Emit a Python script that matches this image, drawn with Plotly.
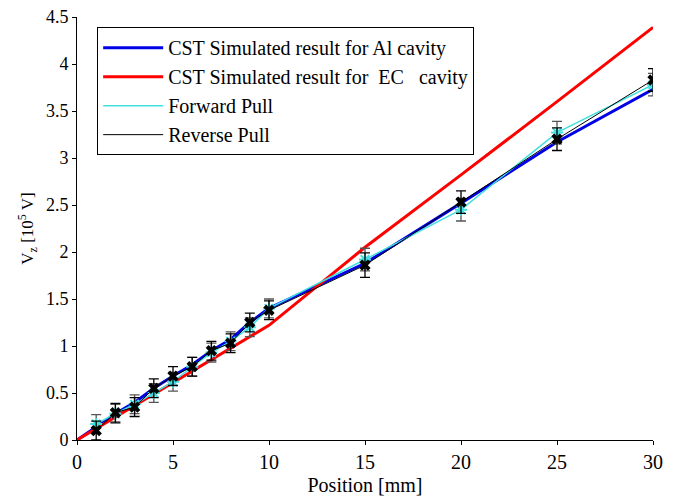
import plotly.graph_objects as go

# Simulated curves
sim_x = [0, 1, 2, 3, 4, 5, 6, 7, 8, 9, 10, 15, 20, 25, 30]
al_cavity = [0, 0.14, 0.28, 0.40, 0.55, 0.68, 0.80, 0.95, 1.07, 1.25, 1.40, 1.88, 2.52, 3.17, 3.73]
ec_x = [0, 10, 15, 20, 25, 30]
ec_cavity = [0, 1.22, 2.05, 2.82, 3.60, 4.39]

# Measured bead-pull data
pos = [1, 2, 3, 4, 5, 6, 7, 8, 9, 10, 15, 20, 25, 30]
forward = [0.17, 0.28, 0.38, 0.50, 0.62, 0.78, 0.93, 1.05, 1.20, 1.40, 1.92, 2.45, 3.27, 3.78]
reverse = [0.10, 0.29, 0.35, 0.55, 0.68, 0.78, 0.95, 1.03, 1.25, 1.38, 1.86, 2.53, 3.20, 3.83]
fwd_err = [0.10, 0.10, 0.10, 0.10, 0.10, 0.10, 0.10, 0.10, 0.10, 0.10, 0.12, 0.12, 0.12, 0.12]
rev_err = [0.10, 0.10, 0.10, 0.10, 0.10, 0.10, 0.10, 0.10, 0.10, 0.10, 0.13, 0.12, 0.12, 0.12]

x_ticks = [0, 5, 10, 15, 20, 25, 30]
y_ticks = [0, 0.5, 1, 1.5, 2, 2.5, 3, 3.5, 4, 4.5]
y_labels = ["0", "0.5", "1", "1.5", "2", "2.5", "3", "3.5", "4", "4.5"]

names = ["CST Simulated result for Al cavity",
         "CST Simulated result for  EC   cavity",
         "Forward Pull", "Reverse Pull"]

font = "Times New Roman, Liberation Serif, DejaVu Serif, serif"
BLUE, RED, CYAN, BLACK = "#0000e6", "#ff0000", "#40e0e0", "black"

fig = go.Figure()
fig.add_trace(go.Scatter(x=sim_x, y=al_cavity, mode="lines",
                         line=dict(color=BLUE, width=3), name=names[0]))
fig.add_trace(go.Scatter(x=ec_x, y=ec_cavity, mode="lines",
                         line=dict(color=RED, width=3), name=names[1]))
fig.add_trace(go.Scatter(x=pos, y=forward, mode="lines+markers",
                         line=dict(color=CYAN, width=1.5),
                         marker=dict(symbol="asterisk-open", size=10,
                                     line=dict(color="#20a0a0", width=2)),
                         error_y=dict(type="data", array=fwd_err, color="#555555",
                                      thickness=1.3, width=5),
                         name=names[2], showlegend=False))
fig.add_trace(go.Scatter(x=pos, y=reverse, mode="lines+markers",
                         line=dict(color=BLACK, width=1),
                         marker=dict(symbol="x", size=10, color=BLACK),
                         error_y=dict(type="data", array=rev_err, color=BLACK,
                                      thickness=1.3, width=5),
                         name=names[3], showlegend=False))
# legend entries for the measured data (line only, as in the original legend)
fig.add_trace(go.Scatter(x=[None], y=[None], mode="lines",
                         line=dict(color=CYAN, width=1.5), name=names[2]))
fig.add_trace(go.Scatter(x=[None], y=[None], mode="lines",
                         line=dict(color=BLACK, width=1), name=names[3]))

fig.update_layout(
    width=694, height=499,
    margin=dict(l=69, r=49, t=9, b=67),
    paper_bgcolor="white", plot_bgcolor="white",
    font=dict(family=font, size=20, color="black"),
    showlegend=True,
    legend=dict(x=0.035, y=0.976, xanchor="left", yanchor="top",
                bordercolor="black", borderwidth=1, bgcolor="white",
                font=dict(family=font, size=20), itemwidth=60,
                tracegroupgap=0),
    xaxis=dict(range=[0, 30], tickvals=x_ticks, showgrid=False, zeroline=False,
               showline=True, linecolor="black", linewidth=1,
               ticks="outside", ticklen=4, tickcolor="black",
               tickfont=dict(size=20), ticklabeloverflow="allow", automargin=False,
               title=dict(text="Position [mm]", standoff=5,
                          font=dict(family=font, size=20))),
    yaxis=dict(range=[0, 4.5], tickvals=y_ticks, ticktext=y_labels, showgrid=False,
               zeroline=False, showline=True, linecolor="black", linewidth=1,
               ticks="outside", ticklen=4, tickcolor="black",
               tickfont=dict(size=18), ticklabeloverflow="allow", automargin=False,
               title=dict(text="V<sub>z</sub> [10<sup>5</sup> V]", standoff=7,
                          font=dict(family=font, size=17))),
)

fig.write_html("out.html")
